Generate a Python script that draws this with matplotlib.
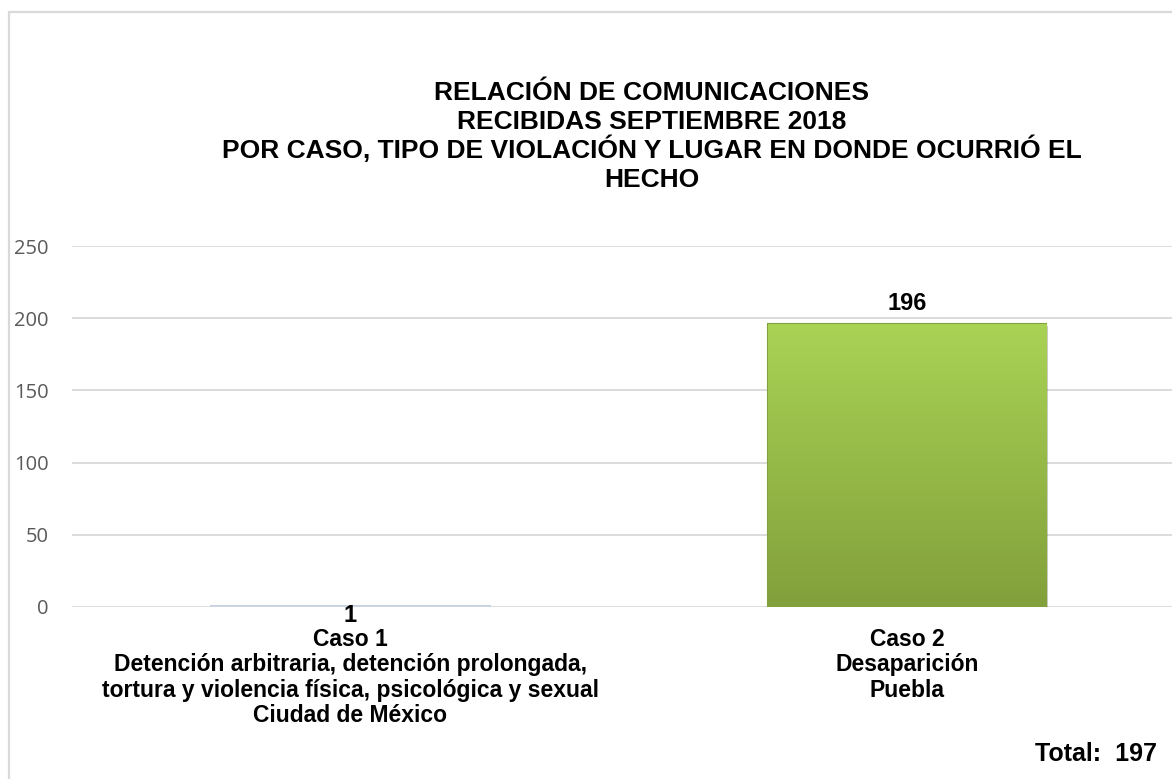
import numpy as np
import matplotlib
matplotlib.use("Agg")
import matplotlib.pyplot as plt
import matplotlib.patheffects as pe
from matplotlib.patches import Rectangle
from matplotlib.colors import LinearSegmentedColormap

# Chart data
categorias = [
    "Caso 1\nDetención arbitraria, detención prolongada,\ntortura y violencia física, psicológica y sexual\nCiudad de México",
    "Caso 2\nDesaparición\nPuebla",
]
valores = [1, 196]
colores_top = ["#d6dde8", "#a9d355"]
colores_bottom = ["#c9d2e0", "#82a03b"]
titulo = [
    "RELACIÓN DE COMUNICACIONES",
    "RECIBIDAS SEPTIEMBRE 2018",
    "POR CASO, TIPO DE VIOLACIÓN Y LUGAR EN DONDE OCURRIÓ EL",
    "HECHO",
]
total = sum(valores)
yticks = [0, 50, 100, 150, 200, 250]

plt.rcParams['font.family'] = ['Liberation Sans', 'DejaVu Sans']

W, H = 1172, 779
fig = plt.figure(figsize=(W / 100, H / 100), dpi=100)

# outer chart border (cropped on the right and bottom)
fig.patches.append(Rectangle((8.5 / W, -0.1), 1.2, (H - 11.5) / H + 0.1,
                             transform=fig.transFigure, fill=False,
                             edgecolor="#d9d9d9", linewidth=1.6))

ax = fig.add_axes([72 / W, (H - 607) / H, (W - 72) / W, (607 - 246) / H])
x = np.arange(len(categorias))
bars = ax.bar(x, valores, width=0.5, color=colores_top, zorder=2)

# vertical gradient fill on each bar, soft shadow behind
for b, c_top, c_bot in zip(bars, colores_top, colores_bottom):
    cmap = LinearSegmentedColormap.from_list("g", [c_bot, c_top])
    grad = np.linspace(0, 1, 256).reshape(-1, 1)
    x0, y0 = b.get_x(), b.get_y()
    img = ax.imshow(grad, cmap=cmap, origin="lower", aspect="auto",
                    extent=[x0, x0 + b.get_width(), y0, y0 + b.get_height()],
                    zorder=3)
    img.set_clip_path(b)
    b.set_edgecolor(c_bot)
    b.set_linewidth(1.5)
    b.set_path_effects([pe.SimplePatchShadow(offset=(1.5, -1.5), alpha=0.25),
                        pe.Normal()])

ax.set_xlim(-0.5, 1.476)
ax.set_ylim(0, 250)
ax.set_yticks(yticks)
ax.grid(axis="y", color="#d9d9d9", linewidth=1.3, zorder=0)
ax.set_axisbelow(True)
for s in ax.spines.values():
    s.set_visible(False)
ax.tick_params(axis="y", length=0, pad=17, labelsize=14.5, labelcolor="#595959")
for lbl in ax.get_yticklabels():
    lbl.set_family(["Open Sans", "DejaVu Sans"])
ax.set_xticks(x)
ax.set_xticklabels(categorias, fontsize=16.5, fontweight="bold", linespacing=1.14,
                   va="top")
ax.tick_params(axis="x", length=0, pad=15)

# value labels
ax.text(x[0], -10.4, str(valores[0]), ha="center", va="baseline", fontsize=17,
        fontweight="bold")
ax.text(x[1], valores[1] + 9.7, str(valores[1]), ha="center", va="baseline",
        fontsize=17, fontweight="bold")

# title, one line at a time
for i, linea in enumerate(titulo):
    fig.text(652 / W, 1 - (100 + 29 * i) / H, linea, ha="center", va="baseline",
             fontsize=19, fontweight="bold")

fig.text(1157 / W, 1 - 761 / H, f"Total:  {total}", ha="right", va="baseline",
         fontsize=18, fontweight="bold")

fig.savefig("out.png", dpi=100)
